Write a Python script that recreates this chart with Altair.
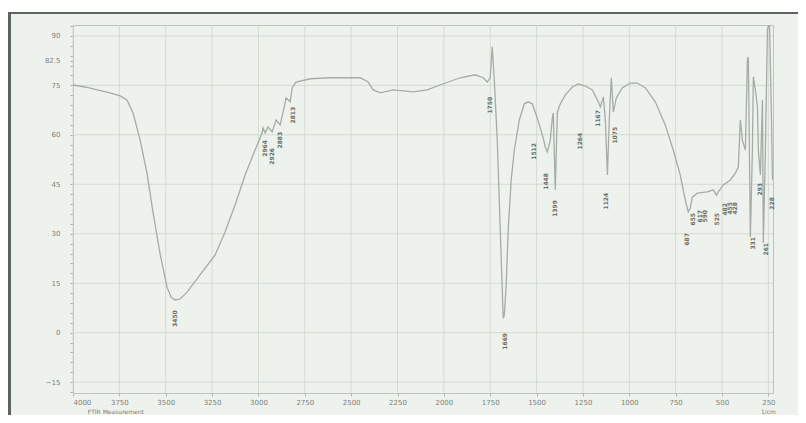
import altair as alt
import pandas as pd

# ---- spectrum (wavenumber in 1/cm, transmittance in %T) ----
wavenumber = [4000, 3935, 3870, 3800, 3746, 3709, 3676, 3638, 3601, 3568, 3531, 3493,
              3471, 3450, 3423, 3385, 3315, 3234, 3180, 3126, 3072, 3018, 2980, 2975,
              2964, 2948, 2926, 2905, 2883, 2862, 2851, 2829, 2818, 2797, 2721, 2613,
              2451, 2408, 2381, 2343, 2273, 2165, 2090, 2020, 1912, 1831, 1788, 1766,
              1750, 1739, 1728, 1712, 1696, 1685, 1680, 1674, 1664, 1653, 1637, 1620,
              1593, 1566, 1545, 1523, 1502, 1480, 1464, 1453, 1442, 1426, 1415, 1410,
              1399, 1388, 1372, 1345, 1307, 1275, 1237, 1199, 1172, 1156, 1140, 1129,
              1118, 1108, 1097, 1086, 1070, 1038, 994, 957, 913, 860, 806, 763, 725,
              698, 682, 671, 660, 633, 579, 547, 530, 520, 493, 455, 428, 412, 401,
              390, 374, 363, 358, 347, 336, 331, 320, 309, 304, 293, 282, 277, 266,
              255, 244, 233, 228]
transmittance = [75.1, 74.5, 73.6, 72.7, 71.8, 70.6, 66.6, 58.4, 48.4, 36.3, 24.1, 13.8,
                 10.8, 9.9, 10.2, 12.3, 17.5, 23.5, 30.5, 38.7, 47.8, 55.4, 60.6, 62.1,
                 60.6, 62.4, 60.9, 64.5, 63.0, 68.1, 71.2, 70.0, 74.2, 76.0, 77.0, 77.3,
                 77.3, 76.0, 73.6, 72.7, 73.6, 73.0, 73.6, 75.1, 77.3, 78.2, 77.3, 76.0,
                 77.3, 86.7, 76.6, 58.4, 31.1, 12.9, 4.4, 5.3, 14.4, 31.1, 46.3, 55.4,
                 64.5, 69.4, 70.0, 69.4, 66.0, 62.1, 59.0, 56.3, 54.8, 58.4, 65.1, 66.6,
                 43.3, 66.9, 69.4, 72.1, 74.5, 75.4, 74.8, 73.6, 70.6, 68.5, 71.5, 64.5,
                 47.8, 64.5, 77.3, 66.9, 71.2, 74.2, 75.7, 75.7, 74.2, 70.0, 63.0, 55.4, 47.8,
                 40.2, 36.6, 37.8, 41.1, 42.3, 42.7, 43.3, 41.7, 42.7, 44.8, 46.3, 48.4, 50.2, 64.5,
                 58.4, 55.4, 82.7, 83.6, 29.0, 55.4, 77.6, 73.6, 68.5, 55.4, 47.8, 70.6, 27.2, 55.4,
                 91.8, 94.2, 64.5, 46.3]

# ---- peak labels ----
peak_wn = [3450, 2964, 2926, 2883, 2813, 1750, 1669, 1512, 1448, 1399, 1264, 1167,
           1124, 1075, 687, 655, 617, 590, 525, 482, 455, 428, 331, 293, 261, 228]
peak_pos = [6.8, 58.4, 56.0, 60.9, 68.5, 71.5, -0.1, 57.5, 48.4, 40.2, 60.6, 67.5,
            42.4, 62.4, 30.2, 36.3, 37.2, 37.2, 36.3, 39.3, 39.6, 39.6, 29.0, 45.4, 27.2, 41.1]

x_ticks = [4000, 3750, 3500, 3250, 3000, 2750, 2500, 2250, 2000, 1750, 1500, 1250,
           1000, 750, 500, 250]
y_major = [90, 75, 60, 45, 30, 15, 0, -15]
y_labels = [90, 82.5, 75, 60, 45, 30, 15, 0, -15]
y_minor = list(range(-18, 94, 3))

X_DOMAIN = [4000, 225]
Y_DOMAIN = [-18.3, 93.3]
W, H = 700, 368

spec = pd.DataFrame({"wn": wavenumber, "T": transmittance})
peaks = pd.DataFrame({"wn": peak_wn, "T": peak_pos,
                      "lab": [str(v) for v in peak_wn]})
gx = pd.DataFrame({"v": x_ticks})
gy = pd.DataFrame({"v": y_major})
one = pd.DataFrame({"a": [0]})

xs = alt.Scale(domain=X_DOMAIN, nice=False, zero=False)
ys = alt.Scale(domain=Y_DOMAIN, nice=False, zero=False)

label_color = "#7a7f7a"
label_list = ", ".join(str(v) for v in y_labels)

xaxis = alt.Axis(values=x_ticks, title=None, grid=False, labelFontSize=7, format="d",
                 labelColor=label_color, tickColor="#b0b8b0", tickSize=3,
                 labelPadding=2, domain=False, labelFont="DejaVu Sans",
                 labelOverlap=False)
yaxis = alt.Axis(values=sorted(y_minor + [82.5]), title=None, grid=False,
                 labelFontSize=7, labelColor=label_color, tickColor="#a8b0a8",
                 tickSize=3, labelPadding=10, domain=False, labelFont="DejaVu Sans",
                 labelOverlap=False, format=".1~f",
                 labelExpr="indexof([" + label_list + "], datum.value) >= 0 ? datum.label : ''")

grid_x = alt.Chart(gx).mark_rule(color="#cdd6cc", strokeWidth=0.8).encode(
    x=alt.X("v:Q", scale=xs, axis=xaxis))
grid_y = alt.Chart(gy).mark_rule(color="#cdd6cc", strokeWidth=0.8).encode(
    y=alt.Y("v:Q", scale=ys, axis=yaxis))

curve = alt.Chart(spec).mark_line(color="#a4aca4", strokeWidth=1.3, clip=True,
                                  interpolate="linear").encode(
    x=alt.X("wn:Q", scale=xs, axis=xaxis),
    y=alt.Y("T:Q", scale=ys, axis=yaxis),
    order=alt.Order("wn:Q", sort="descending"))

peak_text = alt.Chart(peaks).mark_text(angle=270, align="right", baseline="middle",
                                       fontSize=6, color="#6a6f6a", fontWeight="bold",
                                       font="DejaVu Sans").encode(
    x=alt.X("wn:Q", scale=xs, axis=xaxis), y=alt.Y("T:Q", scale=ys, axis=yaxis),
    text="lab:N")

unit_text = alt.Chart(one).mark_text(fontSize=6, color=label_color, baseline="middle",
                                     font="DejaVu Sans").encode(
    x=alt.datum(250, scale=xs, axis=xaxis), y=alt.value(H + 19), text=alt.value("1/cm"))
caption = alt.Chart(one).mark_text(fontSize=6, color=label_color, align="left",
                                   baseline="middle", font="DejaVu Sans").encode(
    x=alt.datum(3920, scale=xs, axis=xaxis), y=alt.value(H + 19),
    text=alt.value("FTIR Measurement"))

white_top = alt.Chart(one).mark_rule(color="white", strokeWidth=5).encode(
    x=alt.value(-66), x2=alt.value(W + 26), y=alt.value(-15))
top_border = alt.Chart(one).mark_rule(color="#5f635f", strokeWidth=2).encode(
    x=alt.value(-65), x2=alt.value(W + 26), y=alt.value(-12))
left_border = alt.Chart(one).mark_rule(color="#5f635f", strokeWidth=3).encode(
    x=alt.value(-63.5), y=alt.value(-13), y2=alt.value(H + 30))

chart = alt.layer(
    grid_x, grid_y, curve, peak_text, unit_text, caption,
    white_top, top_border, left_border
).properties(
    width=W, height=H,
    autosize=alt.AutoSizeParams(type="none"),
    padding={"left": 65, "top": 17, "right": 25, "bottom": 22},
    background="#eef2ed",
).configure_view(stroke="#bcc5bc", strokeWidth=1)

chart.save("out.html", embed_options={"renderer": "svg", "actions": False})
